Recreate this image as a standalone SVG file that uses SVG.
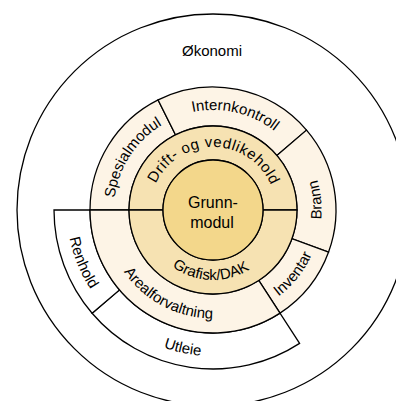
<svg xmlns="http://www.w3.org/2000/svg" width="396" height="401" viewBox="0 0 396 401">
<style>
.sh{stroke:#000;stroke-width:1.3;stroke-linejoin:miter}
.w{fill:#fff}
.b{fill:#fdf4e6}
.m{fill:#f6e2b2}
.g{fill:#f3d78b}
text{font-family:"Liberation Sans",Arial,Helvetica,sans-serif;font-size:15px;fill:#000}
.c{font-size:16px}
</style>
<defs>
<path id="pInt" d="M139.86,141.80 A100,100 0 0 1 308.63,180.76"/>
<path id="pSpe" d="M124.79,254.95 A99,99 0 0 1 218.18,111.14"/>
<path id="pDri" d="M150.35,203.41 A63,63 0 0 1 275.85,205.60"/>
<path id="pBra" d="M276.16,298.22 A108.5,108.5 0 0 0 257.82,111.19"/>
<path id="pInv" d="M196.96,317.31 A108.5,108.5 0 0 0 313.95,170.23"/>
<path id="pAre" d="M104.59,214.35 A108.5,108.5 0 0 0 270.98,301.70"/>
<path id="pGra" d="M147.38,231.32 A68.5,68.5 0 0 0 276.98,235.85"/>
<path id="pRen" d="M74.14,164.89 A146,146 0 0 0 144.45,338.90"/>
<path id="pUtl" d="M97.46,299.28 A146,146 0 0 0 280.86,339.27"/>
</defs>
<g id="okonomi">
<circle class="sh w" cx="213" cy="210" r="196"/>
<text x="212" y="56" text-anchor="middle">Økonomi</text>
</g>
<g id="utleie">
<path class="sh w" d="M299.59,343.35 A159,159 0 0 1 92.10,313.25 L119.47,289.88 A123,123 0 0 0 279.99,313.16 Z"/>
<text><textPath href="#pUtl" startOffset="50%" text-anchor="middle">Utleie</textPath></text>
</g>
<g id="renhold">
<path class="sh w" d="M92.10,313.25 A159,159 0 0 1 54,210 L90,210 A123,123 0 0 0 119.47,289.88 Z"/>
<text><textPath href="#pRen" startOffset="50%" text-anchor="middle">Renhold</textPath></text>
</g>
<g id="spesialmodul">
<path class="sh b" d="M90,210 A123,123 0 0 1 158.12,99.93 L175.52,134.83 A84,84 0 0 0 129,210 Z"/>
<text><textPath href="#pSpe" startOffset="50%" text-anchor="middle">Spesialmodul</textPath></text>
</g>
<g id="internkontroll">
<path class="sh b" d="M158.12,99.93 A123,123 0 0 1 306.53,130.12 L276.87,155.45 A84,84 0 0 0 175.52,134.83 Z"/>
<text><textPath href="#pInt" startOffset="50%" text-anchor="middle">Internkontroll</textPath></text>
</g>
<g id="brann">
<path class="sh b" d="M306.53,130.12 A123,123 0 0 1 328.58,252.07 L291.93,238.73 A84,84 0 0 0 276.87,155.45 Z"/>
<text><textPath href="#pBra" startOffset="50%" text-anchor="middle">Brann</textPath></text>
</g>
<g id="inventar">
<path class="sh b" d="M328.58,252.07 A123,123 0 0 1 279.99,313.16 L258.75,280.45 A84,84 0 0 0 291.93,238.73 Z"/>
<text><textPath href="#pInv" startOffset="50%" text-anchor="middle">Inventar</textPath></text>
</g>
<g id="arealforvaltning">
<path class="sh b" d="M279.99,313.16 A123,123 0 0 1 90,210 L129,210 A84,84 0 0 0 258.75,280.45 Z"/>
<text><textPath href="#pAre" startOffset="50%" text-anchor="middle">Arealforvaltning</textPath></text>
</g>
<g id="drift">
<path class="sh m" d="M129,210 A84,84 0 0 1 297,210 L263,210 A50,50 0 0 0 163,210 Z"/>
<text letter-spacing="0.6"><textPath href="#pDri" startOffset="50%" text-anchor="middle">Drift- og vedlikehold</textPath></text>
</g>
<g id="grafisk">
<path class="sh m" d="M297,210 A84,84 0 0 1 129,210 L163,210 A50,50 0 0 0 263,210 Z"/>
<text><textPath href="#pGra" startOffset="50%" text-anchor="middle">Grafisk/DAK</textPath></text>
</g>
<g id="grunnmodul">
<circle class="sh g" cx="213" cy="210" r="50"/>
<text class="c" x="213" y="208" text-anchor="middle">Grunn-</text>
<text class="c" x="212" y="228" text-anchor="middle">modul</text>
</g>
<g id="connectors"></g>
</svg>
